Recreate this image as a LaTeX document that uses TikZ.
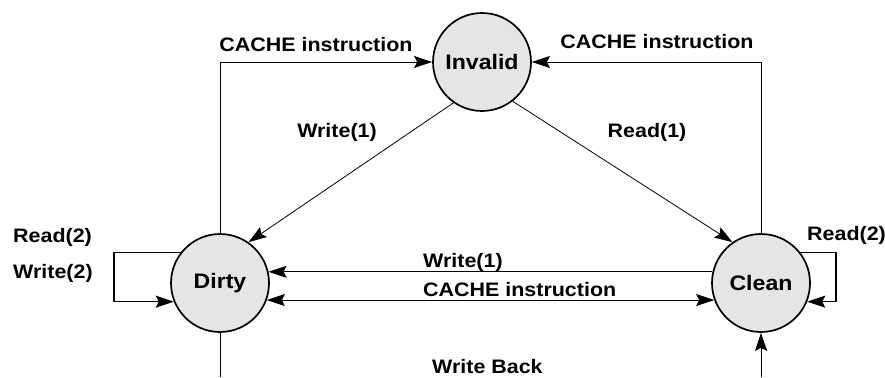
\documentclass[tikz,border=0pt]{standalone}
\usepackage{fontspec}
\setmainfont{Liberation Sans}[FakeStretch=1.1]
\usetikzlibrary{arrows.meta,positioning,calc}

\begin{document}
\begin{tikzpicture}[x=1pt,y=-1pt,
  state/.style={circle,draw,line width=1.7pt,fill=black!10,minimum size=98pt,inner sep=0pt,
    font=\bfseries\fontsize{21}{23}\selectfont},
  lbl/.style={inner sep=0pt,font=\bfseries\fontsize{19.5}{21}\selectfont},
  arr/.style={-{Stealth[length=18pt,width=12pt,inset=3pt]},line width=0.8pt},
  arrs/.style={{Stealth[length=18pt,width=12pt,inset=3pt]}-{Stealth[length=18pt,width=12pt,inset=3pt]},line width=0.8pt},
  selfloop/.style={-{Stealth[length=18pt,width=12pt,inset=3pt]},line width=1.6pt},
  plain/.style={line width=0.8pt}]
\useasboundingbox (0,0) rectangle (885,377);
\node[state] (inv) at (482,62) {Invalid};
\node[state] (dirty) at (220,283) {Dirty};
\node[state] (clean) at (761,283) {Clean};
\coordinate (wbl) at (220,377);
\coordinate (wbr) at (761,377);
\draw[arr] (dirty.north) |- (inv.west);
\draw[arr] (clean.north) |- (inv.east);
\draw[arr] (inv.-125) -- (dirty.55);
\draw[arr] (inv.-52) -- (clean.125);
\draw[arr] (clean.167) -- (dirty.13);
\draw[arrs] (dirty.-20) -- (clean.200);
\draw[selfloop] (dirty.142) -- ++(-67,0) |- (dirty.202);
\draw[selfloop] (clean.38) -- ++(36,0) |- (clean.-22);
\draw[plain] (dirty.south) -- (wbl);
\draw[arr] (wbr) -- (clean.south);
\node[lbl] (ciL) at (316,45) {CACHE instruction};
\node[lbl] (ciR) at (657,42) {CACHE instruction};
\node[lbl] (w1) at (337,132) {Write(1)};
\node[lbl] (r1) at (647,132) {Read(1)};
\node[lbl,anchor=west] (w1m) at (423,262) {Write(1)};
\node[lbl,anchor=west] (cim) at (423,290) {CACHE instruction};
\node[lbl,anchor=west] (r2L) at (13,237) {Read(2)};
\node[lbl,anchor=west] (w2L) at (13,273) {Write(2)};
\node[lbl,anchor=west] (r2R) at (807,235) {Read(2)};
\node[lbl,anchor=west] (wb) at (432,367) {Write Back};
\end{tikzpicture}
\end{document}
